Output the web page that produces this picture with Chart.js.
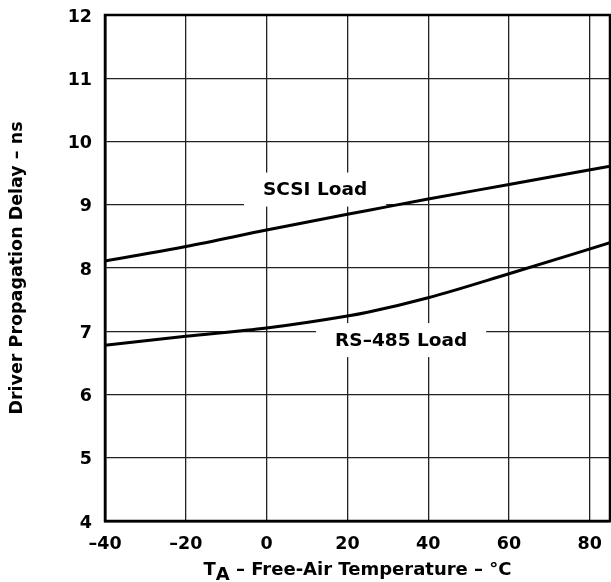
<!DOCTYPE html>
<html>
<head>
<meta charset="utf-8">
<script src="https://cdn.jsdelivr.net/npm/chart.js@4/dist/chart.umd.min.js"></script>
<style>
  html, body { margin: 0; padding: 0; background: #fff; }
  #wrap { width: 611px; height: 582px; position: relative; }
</style>
</head>
<body>
<div id="wrap"><canvas id="chart"></canvas></div>
<script>
// temperature (°C) and driver propagation delay (ns)
const temps = [-40, -20, 0, 20, 25, 40, 60, 85];
const scsiDelay = [8.11, 8.34, 8.60, 8.85, 8.91, 9.09, 9.32, 9.61];
const rs485Delay = [6.78, 6.92, 7.05, 7.24, 7.30, 7.53, 7.91, 8.40];

const xTicks = [-40, -20, 0, 20, 40, 60, 80];
const yTicks = [4, 5, 6, 7, 8, 9, 10, 11, 12];

// curve names, placed in data units
const curveNames = ["SCSI Load", "RS–485 Load"];
const curveNameX = [12, 33.3];
const curveNameY = [9.24, 6.86];

const FONT = "'DejaVu Sans', sans-serif";

const toPoints = (ys) => temps.map((t, i) => ({ x: t, y: ys[i] }));
const dash = (v) => (v < 0 ? "–" + Math.abs(v) : String(v));

const curveLabelPlugin = {
  id: "curveLabels",
  beforeDatasetsDraw(chart) {
    const { ctx, scales } = chart;
    ctx.save();
    ctx.font = "bold 18.5px " + FONT;
    ctx.textAlign = "center";
    ctx.textBaseline = "middle";
    curveNames.forEach((name, i) => {
      const px = scales.x.getPixelForValue(curveNameX[i]);
      const py = scales.y.getPixelForValue(curveNameY[i]);
      const w = ctx.measureText(name).width;
      ctx.fillStyle = "#fff";
      ctx.fillRect(px - w / 2 - 19, py - 17, w + 38, 34);
      ctx.fillStyle = "#000";
      ctx.fillText(name, px, py + 1);
    });
    ctx.restore();
  },
};

const framePlugin = {
  id: "frame",
  afterDatasetsDraw(chart) {
    const { ctx, chartArea: a } = chart;
    ctx.save();
    ctx.strokeStyle = "#000";
    ctx.lineWidth = 2.5;
    ctx.strokeRect(a.left, a.top, a.right - a.left, a.bottom - a.top);
    ctx.restore();
  },
};

// x title with subscript A
const xTitlePlugin = {
  id: "xTitle",
  afterDraw(chart) {
    const { ctx, chartArea: a } = chart;
    const parts = ["T", "A", " – Free-Air Temperature – °C"];
    ctx.save();
    ctx.font = "bold 18px " + FONT;
    const w = parts.map((p) => ctx.measureText(p).width);
    let x = (a.left + a.right) / 2 - (w[0] + w[1] + w[2]) / 2;
    const base = 575;
    ctx.fillStyle = "#000";
    ctx.textBaseline = "alphabetic";
    ctx.fillText(parts[0], x, base);
    x += w[0];
    ctx.fillText(parts[1], x, base + 5);
    x += w[1];
    ctx.fillText(parts[2], x, base);
    ctx.restore();
  },
};

new Chart(document.getElementById("chart"), {
  type: "line",
  data: {
    datasets: [
      {
        label: "SCSI Load",
        data: toPoints(scsiDelay),
        borderColor: "#000",
        borderWidth: 3,
        pointRadius: 0,
        cubicInterpolationMode: "monotone",
      },
      {
        label: "RS–485 Load",
        data: toPoints(rs485Delay),
        borderColor: "#000",
        borderWidth: 3,
        pointRadius: 0,
        cubicInterpolationMode: "monotone",
      },
    ],
  },
  options: {
    responsive: true,
    maintainAspectRatio: false,
    animation: false,
    layout: { padding: { top: 15, right: 1, left: 0, bottom: 0 } },
    plugins: { legend: { display: false }, tooltip: { enabled: false } },
    scales: {
      x: {
        type: "linear",
        min: -40,
        max: 85,
        afterBuildTicks: (s) => { s.ticks = xTicks.map((v) => ({ value: v })); },
        afterFit: (s) => { s.height = 61; s.paddingLeft = 0; s.paddingRight = 0; },
        grid: { color: "#222", lineWidth: 1.3, drawTicks: false },
        border: { color: "#000", width: 2.5 },
        ticks: {
          padding: 13,
          color: "#000",
          font: { family: FONT, size: 17.5, weight: "bold" },
          callback: (v) => dash(v),
          maxRotation: 0,
        },
        title: { display: false },
      },
      y: {
        min: 4,
        max: 12,
        afterBuildTicks: (s) => { s.ticks = yTicks.map((v) => ({ value: v })); },
        afterFit: (s) => { s.width = 105; s.paddingTop = 0; s.paddingBottom = 0; },
        grid: { color: "#222", lineWidth: 1.3, drawTicks: false },
        border: { color: "#000", width: 2.5 },
        ticks: {
          padding: 13,
          labelOffset: 2,
          color: "#000",
          font: { family: FONT, size: 17.5, weight: "bold" },
        },
        title: {
          display: true,
          text: "Driver Propagation Delay – ns",
          color: "#000",
          font: { family: FONT, size: 17.5, weight: "bold" },
          padding: { top: 7, bottom: 0 },
        },
      },
    },
  },
  plugins: [curveLabelPlugin, framePlugin, xTitlePlugin],
});
</script>
</body>
</html>
